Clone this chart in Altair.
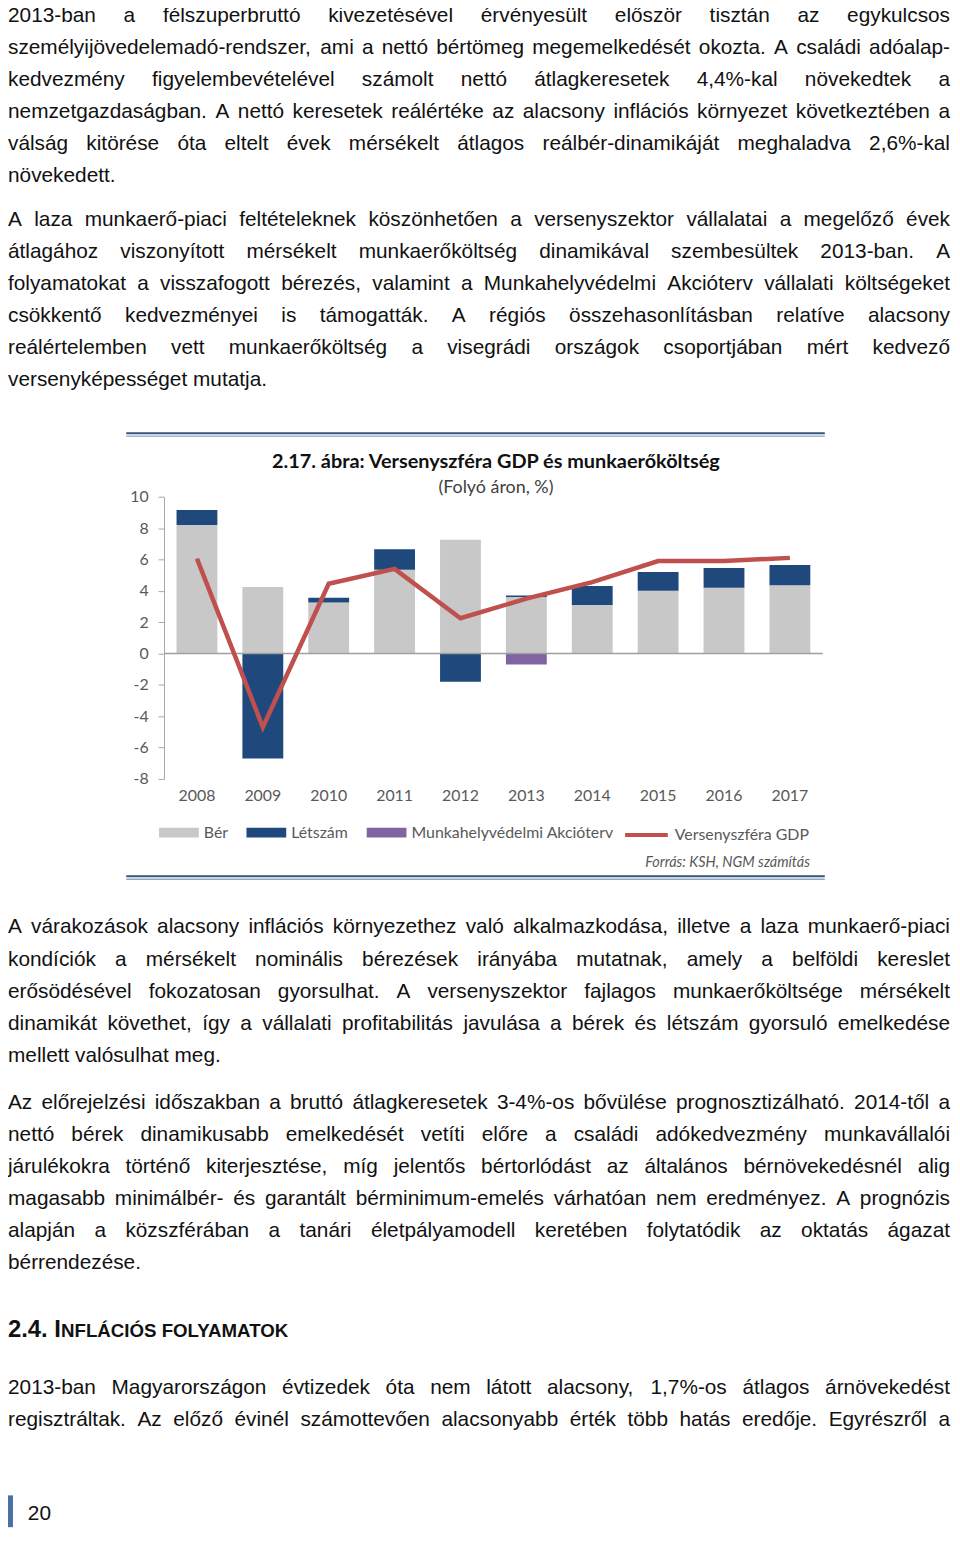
import altair as alt
import pandas as pd

# ---------------- chart data ----------------
years = ["2008", "2009", "2010", "2011", "2012", "2013", "2014", "2015", "2016", "2017"]
ber = [8.2, 4.25, 3.25, 5.35, 7.25, 3.6, 3.1, 4.0, 4.2, 4.35]
letszam = [0.95, -6.7, 0.3, 1.3, -1.8, 0.1, 1.2, 1.2, 1.25, 1.3]
akcioterv = [0, 0, 0, 0, 0, -0.7, 0, 0, 0, 0]
gdp = [6.05, -4.7, 4.45, 5.4, 2.25, 3.5, 4.55, 5.9, 5.9, 6.1]
y_ticks = [-8, -6, -4, -2, 0, 2, 4, 6, 8, 10]

series_names = ["Bér", "Létszám", "Munkahelyvédelmi Akcióterv"]
series_colors = ["#c8c8c8", "#1f497d", "#8064a2"]
gdp_name = "Versenyszféra GDP"
gdp_color = "#c0504d"

chart_title = "2.17. ábra: Versenyszféra GDP és munkaerőköltség"
chart_subtitle = "(Folyó áron, %)"
source_note = "Forrás: KSH, NGM számítás"

# ---------------- page text ----------------
para1 = [
    "2013-ban a félszuperbruttó kivezetésével érvényesült először tisztán az egykulcsos",
    "személyijövedelemadó-rendszer, ami a nettó bértömeg megemelkedését okozta. A családi adóalap-",
    "kedvezmény figyelembevételével számolt nettó átlagkeresetek 4,4%-kal növekedtek a",
    "nemzetgazdaságban. A nettó keresetek reálértéke az alacsony inflációs környezet következtében a",
    "válság kitörése óta eltelt évek mérsékelt átlagos reálbér-dinamikáját meghaladva 2,6%-kal",
    "növekedett.",
]
para2 = [
    "A laza munkaerő-piaci feltételeknek köszönhetően a versenyszektor vállalatai a megelőző évek",
    "átlagához viszonyított mérsékelt munkaerőköltség dinamikával szembesültek 2013-ban. A",
    "folyamatokat a visszafogott bérezés, valamint a Munkahelyvédelmi Akcióterv vállalati költségeket",
    "csökkentő kedvezményei is támogatták. A régiós összehasonlításban relatíve alacsony",
    "reálértelemben vett munkaerőköltség a visegrádi országok csoportjában mért kedvező",
    "versenyképességet mutatja.",
]
para3 = [
    "A várakozások alacsony inflációs környezethez való alkalmazkodása, illetve a laza munkaerő-piaci",
    "kondíciók a mérsékelt nominális bérezések irányába mutatnak, amely a belföldi kereslet",
    "erősödésével fokozatosan gyorsulhat. A versenyszektor fajlagos munkaerőköltsége mérsékelt",
    "dinamikát követhet, így a vállalati profitabilitás javulása a bérek és létszám gyorsuló emelkedése",
    "mellett valósulhat meg.",
]
para4 = [
    "Az előrejelzési időszakban a bruttó átlagkeresetek 3-4%-os bővülése prognosztizálható. 2014-től a",
    "nettó bérek dinamikusabb emelkedését vetíti előre a családi adókedvezmény munkavállalói",
    "járulékokra történő kiterjesztése, míg jelentős bértorlódást az általános bérnövekedésnél alig",
    "magasabb minimálbér- és garantált bérminimum-emelés várhatóan nem eredményez. A prognózis",
    "alapján a közszférában a tanári életpályamodell keretében folytatódik az oktatás ágazat",
    "bérrendezése.",
]
para5 = [
    "2013-ban Magyarországon évtizedek óta nem látott alacsony, 1,7%-os átlagos árnövekedést",
    "regisztráltak. Az előző évinél számottevően alacsonyabb érték több hatás eredője. Egyrészről a",
]
heading_big = "2.4. I"
heading_small = "NFLÁCIÓS FOLYAMATOK"
page_number = "20"

# ---------------- text metrics (Arial / Liberation Sans widths, 1/1000 em) ----------------
W = {" ": 278, ",": 278, ".": 278, "-": 333, "%": 889, "(": 333, ")": 333, ":": 278, ";": 278}
for ch in "0123456789":
    W[ch] = 556
for ch, w in zip("abcdefghijklmnopqrstuvwxyz",
                 [556, 556, 500, 556, 556, 278, 556, 556, 222, 222, 500, 222, 833,
                  556, 556, 556, 556, 333, 500, 278, 556, 500, 722, 500, 500, 500]):
    W[ch] = w
for ch, w in zip("ABCDEFGHIJKLMNOPQRSTUVWXYZ",
                 [667, 667, 722, 722, 667, 611, 778, 722, 278, 500, 667, 556, 833,
                  722, 778, 667, 778, 722, 667, 611, 722, 667, 944, 667, 667, 611]):
    W[ch] = w
for acc, base in zip("áéóöőúüűÁÉÍÓÖŐÚÜŰ", "aeooouuuAEIOOOUUU"):
    W[acc] = W[base]
W["í"] = 278

WB = {" ": 278, ".": 278, "2": 556, "4": 556, "I": 278}

TEXT_W = 948.0
STEP = 32.3
PAGE_H = 1524


def em(s, table=W):
    return sum(table.get(c, 556) for c in s) / 1000.0


def fit_size(paras, cap):
    best = cap
    for lines, just_last in paras:
        for i, ln in enumerate(lines):
            if i < len(lines) - 1 or just_last:
                best = min(best, TEXT_W / em(ln))
    return best * 0.997


def layout(lines, y0, size, justify_last=False):
    rows = []
    for i, line in enumerate(lines):
        words = line.split(" ")
        ws = [em(w) * size for w in words]
        last = i == len(lines) - 1
        if (not last or justify_last) and len(words) > 1:
            gap = (TEXT_W - sum(ws)) / (len(words) - 1)
        else:
            gap = W[" "] / 1000.0 * size
        x = 0.0
        for w, wd in zip(words, ws):
            rows.append({"word": w, "px": x, "py": y0 + i * STEP})
            x += wd + gap
    return rows


s1 = fit_size([(para1, False), (para2, False), (para5, True)], 21.0)
s2 = fit_size([(para3, False), (para4, False)], 21.0)

rows1 = (layout(para1, 3, s1) + layout(para2, 208.5, s1) + layout(para5, 1383.5, s1, True))
rows2 = layout(para3, 920.5, s2) + layout(para4, 1097, s2)


def text_layer(rows, font, size, weight="normal", color="#111111", style="normal", align="left"):
    return alt.Chart(pd.DataFrame(rows)).mark_text(
        align=align, baseline="middle", font=font, fontSize=size, fontWeight=weight,
        fontStyle=style, color=color
    ).encode(
        x=alt.X("px:Q", scale=None, axis=None),
        y=alt.Y("py:Q", scale=None, axis=None),
        text="word:N",
    )


body1 = text_layer(rows1, "Liberation Sans", s1)
body2 = text_layer(rows2, "Liberation Sans", s2)

hb_size, hs_size = 24, 18.8
head1 = text_layer([{"word": heading_big, "px": 0, "py": 1326}], "Liberation Sans", hb_size, "bold")
head2 = text_layer([{"word": heading_small, "px": em(heading_big, WB) * hb_size, "py": 1326.5}],
                   "Liberation Sans", hs_size, "bold")
pnum = text_layer([{"word": page_number, "px": 20, "py": 1511}], "Liberation Sans", 21)

foot_bar = alt.Chart(pd.DataFrame({"k": [0]})).mark_rect(color="#4a6fa5").encode(
    x=alt.value(0), x2=alt.value(5), y=alt.value(1492), y2=alt.value(PAGE_H))

# ---------------- chart block ----------------
frame = []
for yy, col, sw in [(423, "#34557d", 2), (426, "#8ea6c4", 1.5), (869, "#34557d", 2), (872, "#8ea6c4", 1.5)]:
    frame.append(alt.Chart(pd.DataFrame({"k": [0]})).mark_rule(color=col, strokeWidth=sw).encode(
        x=alt.value(119), x2=alt.value(822), y=alt.value(yy)))

title_l = text_layer([{"word": chart_title, "px": 491, "py": 452}], "Lato", 20, "bold", "#111111", align="center")
sub_l = text_layer([{"word": chart_subtitle, "px": 491, "py": 478}], "Lato", 18, "normal", "#404040", align="center")
src_l = text_layer([{"word": source_note, "px": 807, "py": 856}], "Lato", 14.5, "normal", "#595959", "italic", align="right")

bar_rows = []
for i, y in enumerate(years):
    for k, (name, vals) in enumerate(zip(series_names, [ber, letszam, akcioterv])):
        if vals[i] != 0:
            bar_rows.append({"year": y, "series": name, "value": vals[i], "ord": k})
bars_df = pd.DataFrame(bar_rows)
gdp_df = pd.DataFrame({"year": years, "gdp": gdp, "series": [gdp_name] * len(years)})

xscale = alt.Scale(domain=years, range=[157, 820], paddingInner=0.38, paddingOuter=0.19)
yscale = alt.Scale(domain=[-8, 10], range=[771, 487], nice=False, zero=False)

bars = alt.Chart(bars_df).mark_bar().encode(
    x=alt.X("year:N", scale=xscale, sort=years,
            axis=alt.Axis(orient="bottom", offset=771 - PAGE_H, domain=False, ticks=False, labelPadding=9,
                          labelFont="Lato", labelFontSize=16, labelColor="#595959", labelAngle=0,
                          title=None, grid=False)),
    y=alt.Y("value:Q", scale=yscale, stack="zero",
            axis=alt.Axis(orient="left", offset=-157, values=y_ticks, domainColor="#a6a6a6",
                          tickColor="#a6a6a6", tickSize=6, labelFont="Lato", labelFontSize=16,
                          labelColor="#595959", labelPadding=10, grid=False, title=None,
                          labelExpr="datum.value + ''",
                          labelFlush=False, labelOverlap=False)),
    color=alt.Color("series:N", scale=alt.Scale(domain=series_names, range=series_colors),
                    legend=alt.Legend(title=None, orient="none", legendX=152, legendY=805,
                                      direction="horizontal", symbolType="M-1,-0.25H1V0.25H-1Z",
                                      symbolSize=1600, symbolStrokeWidth=0, labelFont="Lato",
                                      labelFontSize=16, labelColor="#595959", labelOffset=5,
                                      columnPadding=18, labelLimit=400, padding=0)),
    order=alt.Order("ord:Q"),
)

zero = alt.Chart(pd.DataFrame({"value": [0]})).mark_rule(color="#a0a0a0", strokeWidth=1.5).encode(
    y=alt.Y("value:Q"), x=alt.value(157), x2=alt.value(820))

line = alt.Chart(gdp_df).mark_line(strokeWidth=4.5).encode(
    x=alt.X("year:N", sort=years),
    y=alt.Y("gdp:Q"),
    stroke=alt.Stroke("series:N", scale=alt.Scale(domain=[gdp_name], range=[gdp_color]),
                      legend=alt.Legend(title=None, orient="none", legendX=619, legendY=804,
                                        direction="horizontal", symbolType="stroke", symbolSize=1849,
                                        symbolStrokeWidth=4, labelFont="Lato", labelFontSize=16,
                                        labelColor="#595959", labelOffset=5, labelLimit=400, padding=0)),
)

chart = alt.layer(
    body1, body2, head1, head2, pnum, foot_bar, *frame, title_l, sub_l, src_l, bars, zero, line
).properties(
    width=950, height=PAGE_H, padding=0, autosize=alt.AutoSizeParams(type="none")
).configure_view(stroke=None)

chart.save("out.html", embed_options={"renderer": "svg", "actions": False})
